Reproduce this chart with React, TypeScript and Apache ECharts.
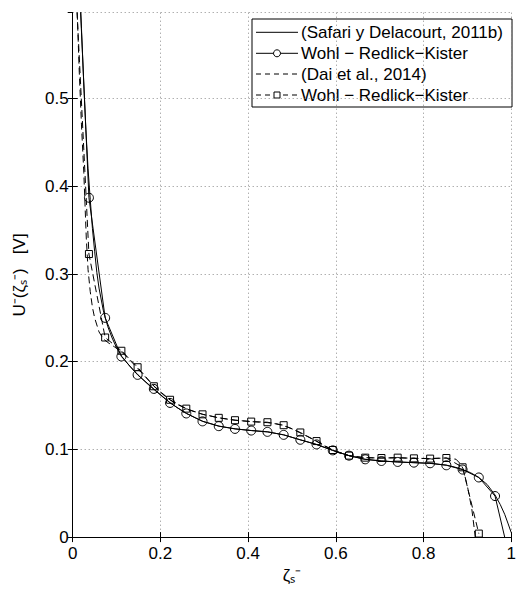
import React, { useEffect, useRef } from "react";
import * as echarts from "echarts";

const FONT = '"Liberation Sans", Arial, Helvetica, sans-serif';

// Axis ticks
const xTicks = [0, 0.2, 0.4, 0.6, 0.8, 1];
const yTicks = [0, 0.1, 0.2, 0.3, 0.4, 0.5];

const legendNames = [
  "(Safari y Delacourt, 2011b)",
  "Wohl − Redlick−Kister",
  "(Dai et al., 2014)",
  "Wohl − Redlick−Kister",
];

// (Safari y Delacourt, 2011b) — solid curve
const safariX = [0.015, 0.02, 0.025, 0.03, 0.035, 0.04, 0.045, 0.05, 0.055, 0.06, 0.07, 0.08, 0.09, 0.1, 0.112, 0.13, 0.149, 0.17, 0.186, 0.205, 0.223, 0.24, 0.26, 0.28, 0.297, 0.334, 0.371, 0.408, 0.445, 0.481, 0.518, 0.555, 0.592, 0.629, 0.665, 0.703, 0.74, 0.777, 0.814, 0.851, 0.87, 0.888, 0.907, 0.926, 0.945, 0.963, 0.975, 0.985, 0.993, 1.0];
const safariY = [0.64, 0.58, 0.52, 0.465, 0.42, 0.385, 0.352, 0.326, 0.302, 0.284, 0.258, 0.24, 0.227, 0.216, 0.206, 0.195, 0.185, 0.175, 0.168, 0.16, 0.153, 0.147, 0.141, 0.136, 0.132, 0.1265, 0.1234, 0.1215, 0.12, 0.1166, 0.111, 0.1057, 0.099, 0.093, 0.0888, 0.0868, 0.0857, 0.0849, 0.0841, 0.0822, 0.08, 0.0772, 0.0735, 0.068, 0.06, 0.048, 0.037, 0.026, 0.015, 0.005];

// Wohl – Redlick–Kister (circles)
const circX = [0, 0.037, 0.074, 0.111, 0.148, 0.185, 0.222, 0.259, 0.296, 0.333, 0.37, 0.407, 0.444, 0.481, 0.519, 0.556, 0.593, 0.63, 0.667, 0.704, 0.741, 0.778, 0.815, 0.852, 0.889, 0.926, 0.963, 1.0];
const circY = [0.8, 0.387, 0.25, 0.206, 0.185, 0.169, 0.153, 0.141, 0.132, 0.1265, 0.1234, 0.1215, 0.12, 0.1166, 0.111, 0.1057, 0.0989, 0.0929, 0.0887, 0.0868, 0.0857, 0.0849, 0.0842, 0.0819, 0.077, 0.068, 0.0468, -0.032];

// (Dai et al., 2014) — dashed curve
const daiX = [0.0103, 0.015, 0.02, 0.0253, 0.031, 0.035, 0.04, 0.045, 0.05, 0.06, 0.07, 0.08, 0.095, 0.112, 0.13, 0.149, 0.167, 0.186, 0.205, 0.223, 0.24, 0.26, 0.28, 0.297, 0.334, 0.371, 0.408, 0.445, 0.465, 0.481, 0.5, 0.518, 0.536, 0.555, 0.574, 0.592, 0.61, 0.629, 0.647, 0.665, 0.703, 0.74, 0.777, 0.814, 0.851, 0.874, 0.885, 0.89, 0.9, 0.91, 0.918, 0.922];
const daiY = [0.598, 0.53, 0.47, 0.416, 0.341, 0.305, 0.28, 0.262, 0.25, 0.234, 0.226, 0.222, 0.217, 0.211, 0.202, 0.192, 0.182, 0.172, 0.163, 0.156, 0.151, 0.146, 0.1425, 0.14, 0.136, 0.1333, 0.1317, 0.1305, 0.129, 0.127, 0.1235, 0.119, 0.1145, 0.1095, 0.104, 0.0993, 0.0955, 0.093, 0.0915, 0.0906, 0.0902, 0.0904, 0.0899, 0.0896, 0.0902, 0.0888, 0.083, 0.078, 0.058, 0.032, 0.0, -0.01];

// Wohl – Redlick–Kister (squares)
const sqX = [0, 0.037, 0.074, 0.111, 0.148, 0.185, 0.222, 0.259, 0.296, 0.333, 0.37, 0.407, 0.444, 0.481, 0.519, 0.556, 0.593, 0.63, 0.667, 0.704, 0.741, 0.778, 0.815, 0.852, 0.889, 0.926];
const sqY = [0.7, 0.3228, 0.2276, 0.2125, 0.1937, 0.172, 0.1566, 0.1465, 0.14, 0.136, 0.1333, 0.1317, 0.131, 0.1276, 0.1193, 0.1095, 0.0993, 0.0929, 0.0906, 0.0902, 0.0906, 0.0898, 0.0895, 0.0902, 0.0796, 0.004];

const pairs = (xs: number[], ys: number[]) => xs.map((x, i) => [x, ys[i]]);
const markerData = (xs: number[], ys: number[], hidden: number[]) =>
  xs.map((x, i) =>
    hidden.includes(i) ? { value: [x, ys[i]], symbol: "none" } : { value: [x, ys[i]] }
  );

export default function App() {
  const ref = useRef<HTMLDivElement>(null);
  useEffect(() => {
    if (!ref.current) return;
    const chart = echarts.init(ref.current, undefined, { renderer: "svg" });

    const gridLeft = 72.7;
    const gridTop = 12.7;
    const gridW = 447;
    const gridH = 528.3;

    // legend layout
    const lx = 252, ly = 19, lw = 260, lh = 88;
    const rowY = [32.3, 53.3, 74, 95];
    const sx1 = 256, sx2 = 298, smid = 277, tx = 301;
    const legendEls: any[] = [
      { type: "rect", shape: { x: lx, y: ly, width: lw, height: lh }, style: { fill: "#fff", stroke: "#000", lineWidth: 1 } },
    ];
    legendNames.forEach((name, i) => {
      const dashed = i >= 2;
      legendEls.push({
        type: "line",
        shape: { x1: sx1, y1: rowY[i], x2: sx2, y2: rowY[i] },
        style: { stroke: "#000", lineWidth: 1, lineDash: dashed ? [5, 4] : null },
      });
      if (i === 1) {
        legendEls.push({ type: "circle", shape: { cx: smid, cy: rowY[i], r: 3.5 }, style: { fill: "#fff", stroke: "#000", lineWidth: 1 } });
      }
      if (i === 3) {
        legendEls.push({ type: "rect", shape: { x: smid - 3, y: rowY[i] - 3, width: 6, height: 6 }, style: { fill: "#fff", stroke: "#000", lineWidth: 1 } });
      }
      legendEls.push({
        type: "text",
        style: { text: name, x: tx, y: rowY[i], fill: "#000", fontSize: 17, fontFamily: FONT, align: "left", verticalAlign: "middle" },
      });
    });

    const axisCommon = {
      axisLine: { show: true, lineStyle: { color: "#000", width: 1 } },
      axisTick: { show: true, inside: true, length: 5, lineStyle: { color: "#000", width: 1 } },
    };

    chart.setOption({
      animation: false,
      backgroundColor: "#fff",
      grid: { left: gridLeft, top: gridTop, width: gridW, height: gridH, containLabel: false },
      xAxis: [
        {
          type: "value",
          position: "bottom",
          min: xTicks[0],
          max: xTicks[xTicks.length - 1],
          interval: 0.2,
          ...axisCommon,
          axisLabel: { color: "#000", fontSize: 17, fontFamily: FONT, margin: 8 },
          splitLine: { show: true, lineStyle: { color: "#8c8c8c", type: [1, 3], width: 1 } },
          name: "ζₛ⁻",
          nameLocation: "middle",
          nameGap: 22,
          nameTextStyle: { color: "#000", fontSize: 17, fontFamily: FONT },
        },
        {
          type: "value",
          position: "top",
          min: xTicks[0],
          max: xTicks[xTicks.length - 1],
          interval: 0.2,
          ...axisCommon,
          axisLabel: { show: false },
          splitLine: { show: false },
        },
      ],
      yAxis: [
        {
          type: "value",
          position: "left",
          min: yTicks[0],
          max: 0.598,
          interval: 0.1,
          ...axisCommon,
          axisLabel: { color: "#000", fontSize: 17, fontFamily: FONT, margin: 4, showMaxLabel: false },
          splitLine: { show: true, lineStyle: { color: "#8c8c8c", type: [1, 3], width: 1 } },
          name: "U⁻(ζₛ⁻)   [V]",
          nameLocation: "middle",
          nameGap: 45,
          nameRotate: 90,
          nameTextStyle: { color: "#000", fontSize: 17, fontFamily: FONT },
        },
        {
          type: "value",
          position: "right",
          min: yTicks[0],
          max: 0.598,
          interval: 0.1,
          ...axisCommon,
          axisLabel: { show: false },
          splitLine: { show: false },
        },
      ],
      series: [
        {
          name: legendNames[0],
          type: "line",
          data: pairs(safariX, safariY),
          symbol: "none",
          lineStyle: { color: "#000", width: 1 },
          clip: true,
          z: 3,
        },
        {
          name: legendNames[1] + " (o)",
          type: "line",
          data: markerData(circX, circY, [0, circX.length - 1]),
          symbol: "circle",
          symbolSize: 9,
          itemStyle: { color: "transparent", borderColor: "#000", borderWidth: 1 },
          lineStyle: { color: "#000", width: 1 },
          clip: true,
          z: 3,
        },
        {
          name: legendNames[2],
          type: "line",
          data: pairs(daiX, daiY),
          symbol: "none",
          lineStyle: { color: "#000", width: 1, type: [7, 4] },
          clip: true,
          z: 3,
        },
        {
          name: legendNames[3] + " (□)",
          type: "line",
          data: markerData(sqX, sqY, [0]),
          symbol: "rect",
          symbolSize: 7,
          itemStyle: { color: "transparent", borderColor: "#000", borderWidth: 1 },
          lineStyle: { color: "#000", width: 1, type: [7, 4] },
          clip: true,
          z: 3,
        },
      ],
      graphic: [{ type: "group", z: 100, children: legendEls }],
    });
    return () => chart.dispose();
  }, []);
  return (
    <div
      ref={ref}
      style={{ position: "fixed", left: 0, top: 0, width: 519, height: 589, background: "#fff" }}
    />
  );
}
